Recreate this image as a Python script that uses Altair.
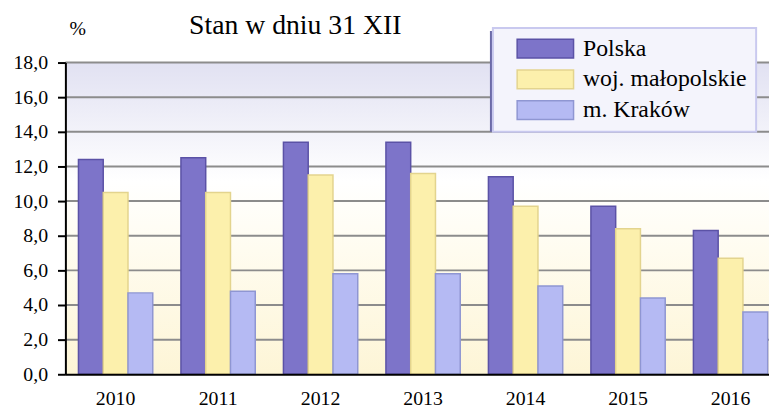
import altair as alt
import pandas as pd

years = ["2010", "2011", "2012", "2013", "2014", "2015", "2016"]
series = ["Polska", "woj. małopolskie", "m. Kraków"]
polska = [12.4, 12.5, 13.4, 13.4, 11.4, 9.7, 8.3]
malopolskie = [10.5, 10.5, 11.5, 11.6, 9.7, 8.4, 6.7]
krakow = [4.7, 4.8, 5.8, 5.8, 5.1, 4.4, 3.6]
y_ticks = [0, 2, 4, 6, 8, 10, 12, 14, 16, 18]
title_text = "Stan w dniu 31 XII"

fill_colors = ["#7d74c9", "#fcf0ac", "#b5baf3"]
stroke_colors = ["#5b52a6", "#e3d48e", "#8f96d2"]

rows = []
for name, vals in zip(series, [polska, malopolskie, krakow]):
    for y, v in zip(years, vals):
        rows.append({"rok": y, "seria": name, "wartosc": v})
df = pd.DataFrame(rows)

W, H = 711, 315
SERIF = "Liberation Serif, Times New Roman, DejaVu Serif, serif"
one = pd.DataFrame({"a": [0]})

y_scale = alt.Scale(domain=[0, 18], nice=False)
y_axis = alt.Axis(
    values=y_ticks, grid=False, labelOverlap=False, labelFlush=False,
    labelExpr="replace(format(datum.value, '.1f'), '.', ',')",
    labelFont=SERIF, labelFontSize=20, labelColor="black", labelPadding=10,
    tickSize=8, tickColor="black", tickWidth=2,
    domainColor="black", domainWidth=2, zindex=1,
    title="%", titleAngle=0, titleFont=SERIF, titleFontSize=20,
    titleFontWeight="normal", titleColor="black",
    titleX=12, titleY=-28, titleAlign="center", titleBaseline="alphabetic",
)

bg = alt.Chart(one).mark_rect(
    fill=alt.Gradient(
        gradient="linear", x1=0, x2=0, y1=0, y2=1,
        stops=[
            alt.GradientStop(color="#e1e1f2", offset=0),
            alt.GradientStop(color="#ffffff", offset=0.38),
            alt.GradientStop(color="#fffcf0", offset=0.6),
            alt.GradientStop(color="#fdf5d6", offset=1),
        ],
    )
).encode(x=alt.value(0), x2=alt.value(W), y=alt.value(0), y2=alt.value(H))

grid = alt.Chart(pd.DataFrame({"wartosc": y_ticks[1:]})).mark_rule(
    color="#8c8c8c", strokeWidth=2
).encode(y=alt.Y("wartosc:Q", scale=y_scale, axis=y_axis))

# legend box shadow (decoration only)
shadow = alt.Chart(one).mark_rect(fill="#6b6aa8").encode(
    x=alt.value(429), x2=alt.value(698), y=alt.value(-32), y2=alt.value(70)
)

title = alt.Chart(one).mark_text(
    text=title_text, font=SERIF, fontSize=28, color="black",
    align="left", baseline="alphabetic",
).encode(x=alt.value(125), y=alt.value(-29))

bars = alt.Chart(df).mark_bar(strokeWidth=1.5).encode(
    x=alt.X(
        "rok:N", sort=years, title=None,
        scale=alt.Scale(paddingInner=0.275, paddingOuter=0.07, align=0.91),
        axis=alt.Axis(
            labelAngle=0, labelFont=SERIF, labelFontSize=20, labelColor="black",
            labelPadding=15, ticks=False, domainColor="black", domainWidth=2, zindex=1,
        ),
    ),
    xOffset=alt.XOffset("seria:N", sort=series, scale=alt.Scale(paddingInner=0, paddingOuter=0)),
    y=alt.Y("wartosc:Q", scale=y_scale, axis=y_axis),
    fill=alt.Fill(
        "seria:N", sort=series,
        scale=alt.Scale(domain=series, range=fill_colors),
        legend=alt.Legend(title=None),
    ),
    stroke=alt.Stroke(
        "seria:N", sort=series,
        scale=alt.Scale(domain=series, range=stroke_colors),
        legend=alt.Legend(title=None),
    ),
)

chart = alt.layer(bg, grid, shadow, bars, title).properties(
    width=W, height=H,
    autosize=alt.AutoSizeParams(type="none"),
    padding={"left": 58, "top": 53, "right": 0, "bottom": 36},
).configure_view(stroke="transparent").configure_legend(
    orient="none", legendX=432, legendY=-35, padding=9,
    fillColor="#f4f4fc", strokeColor="#c9c9ef", strokeWidth=2,
    labelFont=SERIF, labelFontSize=24, labelColor="black", labelLimit=400,
    labelOffset=45, symbolOffset=13,
    symbolType="M-1,-1H5V1H-1Z", symbolSize=361, symbolStrokeWidth=1.5,
    rowPadding=5,
)

chart.save("out.html", embed_options={"renderer": "svg", "actions": False})
